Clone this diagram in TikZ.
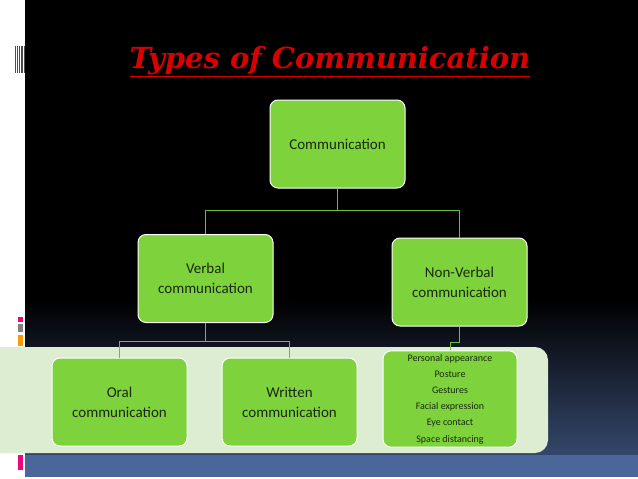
\documentclass[tikz,border=0pt]{standalone}
\usepackage{fontspec}
\setmainfont{Carlito}
\newfontfamily\titlefont{DejaVu Serif}
\definecolor{bx}{HTML}{7ED23C}
\definecolor{band}{HTML}{DDEDD2}
\definecolor{txt}{HTML}{1A2A10}
\definecolor{ln}{HTML}{6DBE3A}
\definecolor{blu}{HTML}{4B6699}
\begin{document}
\begin{tikzpicture}[x=1pt,y=-1pt,
 box/.style={draw=white,line width=1pt,fill=bx,rounded corners=8pt,minimum width=135pt,minimum height=88pt,align=center,text=txt,font=\fontsize{15}{20}\selectfont},
 con/.style={draw=ln,line width=1pt}]
\useasboundingbox (0,0) rectangle (638,479);
\fill[white] (0,0) rectangle (638,479);
\fill[black] (25,0) rectangle (638,455);
\shade[top color=black,bottom color=blu!70!black] (25,300) rectangle (638,455);
\fill[blu] (25,455) rectangle (638,477);
\foreach \i in {15,17,19,20.5,22,23.5} \fill[black!70] (\i,46) rectangle ++(0.8,27);
\fill[magenta!80!red] (18,317) rectangle (23,322);
\fill[gray] (18,324) rectangle (23,332);
\fill[orange!80!yellow] (18,335) rectangle (23,346);
\fill[magenta!80!red] (18,455) rectangle (23,470);
\fill[band,rounded corners=13pt] (-20,347) rectangle (548,453);
\node[text=red!85!black,font=\titlefont\bfseries\itshape\fontsize{29}{32}\selectfont] (title) at (330,62) {\underline{Types of Communication}};
\node[box] (c) at (337.5,144) {Communication};
\node[box] (v) at (205.5,278.5) {Verbal\\communication};
\node[box] (n) at (459.5,282) {Non-Verbal\\communication};
\node[box] (o) at (119.5,402) {Oral\\communication};
\node[box] (w) at (289.5,402) {Written\\communication};
\node[box,minimum width=134pt,font=\fontsize{10}{16.2}\selectfont] (l) at (450,399) {Personal appearance\\Posture\\Gestures\\Facial expression\\Eye contact\\Space distancing};
\draw[con] (c.south) -- ++(0,22) -| (v.north);
\draw[con] (c.south) -- ++(0,22) -| (n.north);
\draw[con] (v.south) -- ++(0,18) -| (o.north);
\draw[con] (v.south) -- ++(0,18) -| (w.north);
\draw[con] (n.south) -- ++(0,16) -| (l.north);
\end{tikzpicture}
\end{document}
